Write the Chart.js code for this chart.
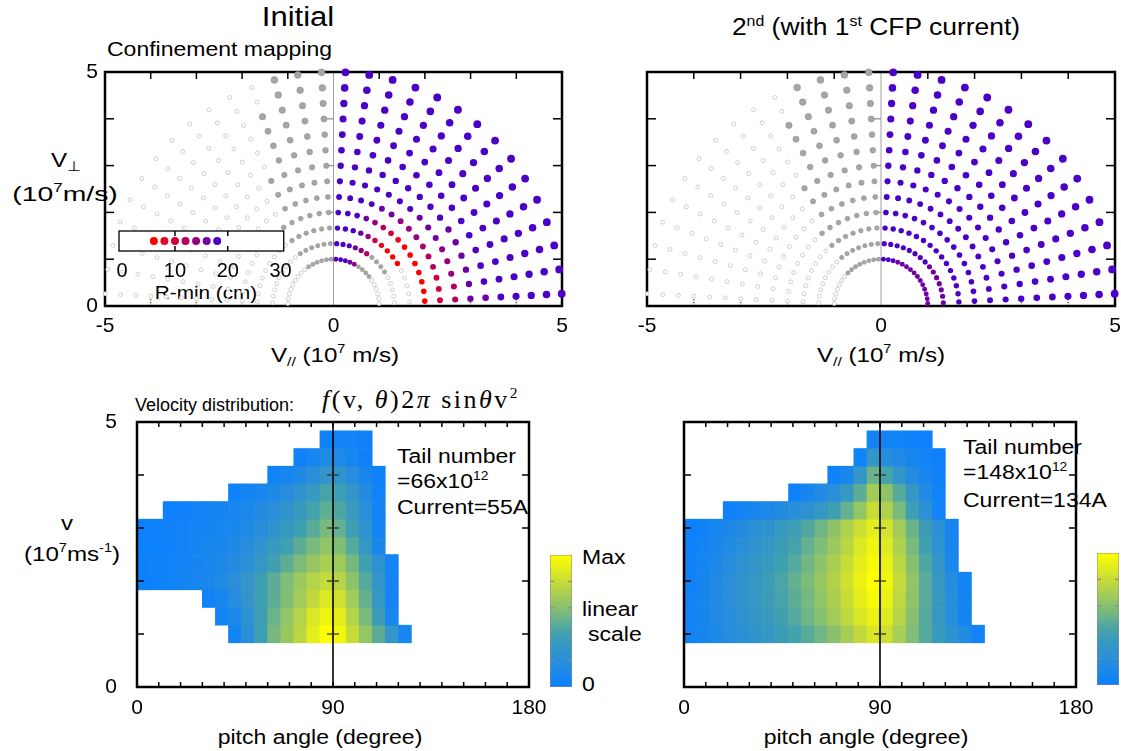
<!DOCTYPE html>
<html lang="en">
<head>
<meta charset="UTF-8">
<title>Confinement mapping and velocity distribution</title>
<script src="https://cdn.jsdelivr.net/npm/chart.js"></script>
<style>
    body { margin: 0; background: #fff; font-family: "Liberation Sans", Arial, sans-serif; }
    #page { position: relative; width: 1121px; height: 751px; overflow: hidden; }
    canvas { position: absolute; }
    .t { position: absolute; white-space: nowrap; line-height: 1; color: #000; --sx: 1.15; }
    .c { transform: translate(-50%, -50%) scaleX(var(--sx)); }
    .l { transform: translateY(-50%) scaleX(var(--sx)); transform-origin: left center; }
    .t sup { font-size: 0.6em; vertical-align: 0.65em; line-height: 0; }
    .t sub { font-size: 0.65em; vertical-align: -0.35em; line-height: 0; }
    .serif { font-family: "Liberation Serif", "DejaVu Serif", serif; letter-spacing: 2.5px; }
</style>
</head>
<body>
<div id="page">
    <div class="t c" style="left:298px;top:17px;font-size:27px">Initial</div>
    <div class="t c" style="left:876px;top:27px;font-size:23px">2<sup>nd</sup> (with 1<sup>st</sup> CFP current)</div>
    <div class="t l" style="left:107px;top:49px;font-size:20px">Confinement mapping</div>

    <div class="t c" style="left:66px;top:159px;font-size:21px">V<sub>⊥</sub></div>
    <div class="t c" style="left:65px;top:193px;font-size:21px;--sx:1.35">(10<sup>7</sup>m/s)</div>
    <div class="t c" style="left:335px;top:354px;font-size:21px">V<sub>//</sub> (10<sup>7</sup> m/s)</div>
    <div class="t c" style="left:881px;top:354px;font-size:21px">V<sub>//</sub> (10<sup>7</sup> m/s)</div>
    <div class="t c" style="left:206px;top:293px;font-size:18px">R-min (cm)</div>

    <div class="t l" style="left:135px;top:405px;font-size:18px;--sx:1">Velocity distribution:</div>
    <div class="t l serif" style="left:322px;top:400px;font-size:26px;--sx:1"><i>f</i>(v, <i>θ</i>)2<i>π</i> sin<i>θ</i>v<sup>2</sup></div>

    <div class="t c" style="left:67px;top:522px;font-size:21px">v</div>
    <div class="t c" style="left:72px;top:553px;font-size:21px">(10<sup>7</sup>ms<sup>-1</sup>)</div>
    <div class="t c" style="left:320px;top:737px;font-size:20px">pitch angle (degree)</div>
    <div class="t c" style="left:866px;top:737px;font-size:20px">pitch angle (degree)</div>

    <div class="t l" style="left:397px;top:456px;font-size:20px">Tail number</div>
    <div class="t l" style="left:397px;top:481px;font-size:20px">=66x10<sup>12</sup></div>
    <div class="t l" style="left:397px;top:507px;font-size:20px">Current=55A</div>
    <div class="t l" style="left:963px;top:447px;font-size:20px">Tail number</div>
    <div class="t l" style="left:963px;top:472px;font-size:20px">=148x10<sup>12</sup></div>
    <div class="t l" style="left:963px;top:500px;font-size:20px">Current=134A</div>

    <div class="t l" style="left:582px;top:557px;font-size:20px">Max</div>
    <div class="t l" style="left:582px;top:609px;font-size:20px">linear</div>
    <div class="t l" style="left:588px;top:634px;font-size:20px">scale</div>
    <div class="t l" style="left:582px;top:684px;font-size:20px">0</div>
</div>

<script>
    // velocity grid: speed (10^7 m/s) and pitch angle (degree)
    const speeds = [1.0, 1.333, 1.667, 2.0, 2.333, 2.667, 3.0, 3.333, 3.667, 4.0, 4.333, 4.667, 5.0];
    const pitchAngles = [3, 9, 15, 21, 27, 33, 39, 45, 51, 57, 63, 69, 75, 81, 87,
                         93, 99, 105, 111, 117, 123, 129, 135, 141, 147, 153, 159, 165, 171, 177];

    // R-min classes (cm) shown in the small legend
    const rMinLegend = [6, 8, 10, 12, 14, 16, 18];

    // one string per speed, one char per pitch angle:
    // '1'..'7' confined (R-min class), 'g' lost near 90 deg, 'o' lost
    const mapInitial = [
        'oooooogggg56777ggggggooooooooo',
        'ooooogggg456777ggggggooooooooo',
        'ooooo1112356777ggggggooooooooo',
        '111111123456777ggggggooooooooo',
        '333444555667777gggggoooooooooo',
        '445556667777777gggggoooooooooo',
        '666666777777777gggggoooooooooo',
        '677777777777777ggggooooooooooo',
        '777777777777777ggggooooooooooo',
        '777777777777777ggggooooooooooo',
        '777777777777777ggggooooooooooo',
        '777777777777777gggoooooooooooo',
        '777777777777777gggoooooooooooo'
    ];
    const mapSecond = [
        '666666666666777ggggggggooooooo',
        '666666677777777gggggggoooooooo',
        '777777777777777gggggggoooooooo',
        '777777777777777gggggggoooooooo',
        '777777777777777ggggggooooooooo',
        '777777777777777ggggggooooooooo',
        '777777777777777ggggggooooooooo',
        '777777777777777gggggoooooooooo',
        '777777777777777gggggoooooooooo',
        '777777777777777gggggoooooooooo',
        '777777777777777gggggoooooooooo',
        '777777777777777ggggooooooooooo',
        '777777777777777ggggooooooooooo'
    ];

    // f(v,theta) in % of max, rows from v=1.0 upward, first pitch-angle bin of each row
    const distInitialStart = [7, 6, 5, 0, 0, 0, 0, 2, 7, 10, 12, 14];
    const distInitial = [
        [6, 20, 38, 55, 65, 76, 90, 100, 96, 80, 64, 48, 28, 8],
        [5, 12, 24, 38, 52, 63, 74, 86, 94, 90, 74, 56, 36, 8],
        [4, 9, 17, 27, 38, 48, 58, 68, 78, 87, 83, 68, 50, 30, 6],
        [2, 3, 4, 6, 8, 10, 14, 20, 28, 38, 48, 58, 66, 74, 79, 75, 62, 46, 28, 6],
        [2, 3, 4, 5, 7, 9, 12, 16, 22, 30, 40, 48, 57, 65, 71, 67, 55, 40, 24, 5],
        [1, 2, 3, 4, 6, 8, 10, 13, 18, 25, 33, 40, 48, 56, 63, 58, 46, 30, 10],
        [1, 2, 3, 4, 5, 6, 8, 10, 14, 19, 25, 32, 39, 47, 56, 50, 38, 24, 6],
        [2, 3, 4, 5, 6, 8, 11, 15, 20, 26, 33, 41, 49, 44, 33, 20, 5],
        [3, 6, 9, 13, 18, 25, 33, 42, 38, 28, 16, 4],
        [4, 8, 13, 20, 28, 26, 18, 9, 3],
        [3, 8, 15, 14, 8, 3],
        [3, 5, 5, 3]
    ];
    const distSecondStart = [0, 0, 0, 0, 0, 0, 0, 3, 8, 11, 13, 14];
    const distSecond = [
        [4, 8, 13, 17, 21, 26, 31, 36, 41, 47, 54, 61, 69, 78, 86, 82, 70, 58, 46, 34, 24, 15, 5],
        [4, 8, 14, 19, 24, 29, 34, 40, 46, 53, 60, 68, 77, 86, 92, 88, 74, 60, 46, 32, 18, 6],
        [4, 8, 14, 20, 25, 30, 36, 42, 48, 55, 63, 71, 80, 90, 97, 92, 77, 62, 47, 32, 18, 6],
        [3, 8, 14, 20, 26, 31, 37, 43, 50, 57, 65, 73, 83, 93, 100, 95, 79, 63, 47, 31, 17, 5],
        [3, 7, 12, 18, 23, 28, 34, 40, 46, 54, 62, 70, 80, 90, 97, 92, 76, 60, 44, 28, 10],
        [2, 6, 10, 15, 20, 25, 30, 36, 42, 50, 58, 66, 76, 87, 94, 88, 72, 56, 40, 24, 8],
        [2, 4, 8, 12, 16, 21, 26, 32, 38, 45, 53, 62, 72, 82, 90, 84, 68, 52, 36, 22, 7],
        [3, 6, 9, 12, 15, 19, 23, 30, 38, 50, 64, 80, 72, 56, 38, 22, 5],
        [3, 8, 14, 20, 32, 48, 68, 62, 46, 30, 14, 4],
        [3, 10, 28, 52, 42, 28, 16, 8, 3],
        [4, 28, 18, 14, 9, 5, 2],
        [6, 5, 4, 3, 2]
    ];

    // colours
    const rMinColors = ['#ff0000', '#ee0022', '#d4003e', '#b40060', '#940080', '#7000a4', '#4a00c6'];
    const cmapStops = [
        [0, [10, 128, 255]], [0.2, [42, 142, 216]], [0.4, [64, 160, 176]],
        [0.6, [136, 192, 112]], [0.8, [200, 220, 56]], [1, [255, 255, 0]]
    ];

    function cmap(t) {
        t = Math.max(0, Math.min(1, t));
        for (let i = 1; i < cmapStops.length; i++) {
            const [t1, c1] = cmapStops[i];
            if (t <= t1) {
                const [t0, c0] = cmapStops[i - 1];
                const f = (t - t0) / (t1 - t0);
                const c = c0.map((v, j) => Math.round(v + (c1[j] - v) * f));
                return 'rgb(' + c.join(',') + ')';
            }
        }
        return 'rgb(255,255,0)';
    }

    Chart.defaults.font.family = '"Liberation Sans", Arial, sans-serif';
    Chart.defaults.font.size = 21;
    Chart.defaults.color = '#000';
    Chart.defaults.animation = false;
    Chart.defaults.events = [];
    Chart.defaults.plugins.legend.display = false;
    Chart.defaults.plugins.tooltip.enabled = false;

    const page = document.getElementById('page');

    function addCanvas(box, m) {
        const c = document.createElement('canvas');
        const w = box.r - box.l + m.l + m.r;
        const h = box.b - box.t + m.t + m.b;
        c.width = w;
        c.height = h;
        c.style.left = (box.l - m.l) + 'px';
        c.style.top = (box.t - m.t) + 'px';
        c.style.width = w + 'px';
        c.style.height = h + 'px';
        page.appendChild(c);
        return c;
    }

    function axisX(min, max, labels, pad, m) {
        return {
            type: 'linear', min: min, max: max, offset: false,
            grid: { display: false, drawTicks: false, offset: false },
            border: { display: false },
            ticks: { padding: pad, maxRotation: 0, autoSkip: false, callback: v => String(v) },
            afterBuildTicks: s => { s.ticks = labels.map(v => ({ value: v })); },
            afterFit: s => { s.height = m.b; }
        };
    }

    function axisY(min, max, labels, pad, m, show) {
        return {
            type: 'linear', min: min, max: max,
            grid: { display: false, drawTicks: false },
            border: { display: false },
            ticks: { padding: pad, display: show, callback: v => String(v) },
            afterBuildTicks: s => { s.ticks = labels.map(v => ({ value: v })); },
            afterFit: s => { s.width = m.l; }
        };
    }

    // frame, inward ticks and the centre line of a panel
    function drawFrame(chart, o) {
        const { ctx, chartArea: a, scales } = chart;
        const x = scales.x, y = scales.y;
        const seg = (x0, y0, x1, y1) => { ctx.beginPath(); ctx.moveTo(x0, y0); ctx.lineTo(x1, y1); ctx.stroke(); };
        ctx.save();
        if (o.fill) {
            ctx.fillStyle = o.fill;
            ctx.fillRect(a.left, a.top, a.right - a.left, a.bottom - a.top);
        }
        if (o.center) {
            const cx = x.getPixelForValue(o.center.value);
            ctx.strokeStyle = o.center.color;
            ctx.lineWidth = o.center.width;
            seg(cx, a.top, cx, a.bottom);
            ctx.strokeStyle = o.center.tickColor;
            ctx.lineWidth = 1.3;
            (o.yTicks || []).forEach(v => {
                const py = y.getPixelForValue(v);
                seg(cx - o.center.tickLeft, py, cx + o.center.tickRight, py);
            });
        }
        ctx.strokeStyle = o.color || '#000';
        ctx.lineWidth = o.tickWidth || 1.5;
        (o.xTicks || []).forEach(v => {
            const px = x.getPixelForValue(v);
            seg(px, a.top, px, a.top + o.lenTop);
            if (o.bottomDotted) {
                ctx.save();
                ctx.strokeStyle = '#555';
                ctx.setLineDash([1.2, 1.6]);
                seg(px, a.bottom, px, a.bottom - o.lenTop);
                ctx.restore();
            } else {
                seg(px, a.bottom, px, a.bottom - o.lenTop);
            }
        });
        (o.yTicks || []).forEach(v => {
            const py = y.getPixelForValue(v);
            seg(a.left, py, a.left + o.lenSide, py);
            seg(a.right, py, a.right - o.lenSide, py);
        });
        ctx.lineWidth = o.lineWidth;
        ctx.strokeStyle = o.color || '#000';
        ctx.strokeRect(a.left, a.top, a.right - a.left, a.bottom - a.top);
        ctx.restore();
    }

    const panelFrame = {
        id: 'panelFrame',
        beforeDatasetsDraw(chart, args, o) { if (!o.onTop) drawFrame(chart, o); },
        afterDatasetsDraw(chart, args, o) { if (o.onTop) drawFrame(chart, o); }
    };

    function confinementDatasets(codes) {
        const open = [], grey = [], kept = [];
        speeds.forEach((v, i) => {
            pitchAngles.forEach((deg, k) => {
                const c = codes[i][k];
                const th = deg * Math.PI / 180;
                const p = { x: v * Math.cos(th), y: v * Math.sin(th), v: v, cls: c };
                if (c === 'o') open.push(p);
                else if (c === 'g') grey.push(p);
                else kept.push(p);
            });
        });
        return [
            {
                data: open, clip: false, pointRadius: 2, pointBorderWidth: 0.8,
                pointBackgroundColor: '#ffffff', pointBorderColor: '#c4c4c4'
            },
            {
                data: grey, clip: false, pointBorderWidth: 0.6,
                pointRadius: ctx => ctx.raw ? 1.7 + 0.34 * ctx.raw.v : 2,
                pointBackgroundColor: '#a6a6a6', pointBorderColor: '#8e8e8e'
            },
            {
                data: kept, clip: false, pointBorderWidth: 0,
                pointRadius: ctx => ctx.raw ? 2.1 + 0.36 * ctx.raw.v : 2,
                pointBackgroundColor: ctx => ctx.raw ? rMinColors[Number(ctx.raw.cls) - 1] : '#000'
            }
        ];
    }

    function confinementChart(box, codes, showY) {
        const m = { l: 50, t: 40, r: 25, b: 45 };
        return new Chart(addCanvas(box, m), {
            type: 'scatter',
            data: { datasets: confinementDatasets(codes) },
            options: {
                responsive: false,
                devicePixelRatio: 1,
                layout: { padding: { left: 0, top: m.t, right: m.r, bottom: 0 } },
                scales: {
                    x: axisX(-5, 5, [-5, 0, 5], 8, m),
                    y: axisY(0, 5, [0, 5], 7, m, showY)
                },
                plugins: {
                    panelFrame: {
                        onTop: false, lineWidth: 2.5, lenTop: 7, lenSide: 9, bottomDotted: true,
                        xTicks: [-4, -3, -2, -1, 1, 2, 3, 4], yTicks: [1, 2, 3, 4],
                        center: { value: 0, color: '#a0a0a0', width: 1, tickColor: '#909090', tickLeft: 8, tickRight: 0 }
                    }
                }
            },
            plugins: [panelFrame]
        });
    }

    function cellData(starts, rows) {
        const dv = speeds[1] - speeds[0];
        const out = [];
        rows.forEach((vals, i) => {
            const v = speeds[i];
            vals.forEach((val, j) => {
                out.push({ x: pitchAngles[starts[i] + j], y: [v - dv / 2, v + dv / 2], f: val });
            });
        });
        return out;
    }

    function distributionChart(box, starts, rows, showY) {
        const m = { l: 60, t: 40, r: 30, b: 45 };
        return new Chart(addCanvas(box, m), {
            type: 'bar',
            data: {
                datasets: [{
                    data: cellData(starts, rows),
                    backgroundColor: ctx => ctx.raw ? cmap(ctx.raw.f / 100) : '#000',
                    borderWidth: 0,
                    barPercentage: 1,
                    categoryPercentage: 1
                }]
            },
            options: {
                responsive: false,
                devicePixelRatio: 1,
                layout: { padding: { left: 0, top: m.t, right: m.r, bottom: 0 } },
                scales: {
                    x: axisX(0, 180, [0, 90, 180], 9, m),
                    y: axisY(0, 5, [0, 5], 20, m, showY)
                },
                plugins: {
                    panelFrame: {
                        onTop: true, lineWidth: 2.5, lenTop: 5, lenSide: 7,
                        xTicks: [10, 20, 30, 40, 50, 60, 70, 80, 90, 100, 110, 120, 130, 140, 150, 160, 170],
                        yTicks: [1, 2, 3, 4],
                        center: { value: 90, color: '#000', width: 1.6, tickColor: '#333', tickLeft: 6, tickRight: 6 }
                    }
                }
            },
            plugins: [panelFrame]
        });
    }

    function colorBar(box) {
        const m = { l: 0, t: 0, r: 0, b: 0 };
        return new Chart(addCanvas(box, m), {
            type: 'bar',
            data: {
                labels: ['f'],
                datasets: [{
                    data: [[0, 1]],
                    borderWidth: 0,
                    barPercentage: 1,
                    categoryPercentage: 1,
                    backgroundColor: ctx => {
                        const a = ctx.chart.chartArea;
                        if (!a) return cmap(0.5);
                        const g = ctx.chart.ctx.createLinearGradient(0, a.bottom, 0, a.top);
                        cmapStops.forEach(([t]) => g.addColorStop(t, cmap(t)));
                        return g;
                    }
                }]
            },
            options: {
                responsive: false,
                devicePixelRatio: 1,
                scales: {
                    x: { display: false },
                    y: { display: false, min: 0, max: 1 }
                },
                plugins: {
                    panelFrame: {
                        onTop: true, lineWidth: 1, color: '#8a8a8a', tickWidth: 1.2, lenTop: 0, lenSide: 4,
                        yTicks: [0.2, 0.4, 0.6, 0.8]
                    }
                }
            },
            plugins: [panelFrame]
        });
    }

    confinementChart({ l: 105, t: 72, r: 562, b: 306 }, mapInitial, true);
    confinementChart({ l: 647, t: 72, r: 1115, b: 306 }, mapSecond, false);
    distributionChart({ l: 137, t: 422, r: 529, b: 687 }, distInitialStart, distInitial, true);
    distributionChart({ l: 684, t: 422, r: 1076, b: 687 }, distSecondStart, distSecond, false);
    colorBar({ l: 550, t: 555, r: 572, b: 687 });
    colorBar({ l: 1097, t: 553, r: 1119, b: 685 });

    // R-min legend inside the initial confinement map
    new Chart(addCanvas({ l: 119, t: 231, r: 284, b: 251 }, { l: 24, t: 20, r: 16, b: 54 }), {
        type: 'scatter',
        data: {
            datasets: [{
                data: rMinLegend.map(r => ({ x: r, y: 0.5 })),
                pointRadius: 4,
                pointBorderWidth: 0,
                pointBackgroundColor: rMinColors
            }]
        },
        options: {
            responsive: false,
            devicePixelRatio: 1,
            layout: { padding: { left: 24, top: 20, right: 16, bottom: 0 } },
            scales: {
                x: Object.assign(axisX(-0.6, 30.6, [0, 10, 20, 30], 8, { b: 54 }), {
                    ticks: { padding: 8, maxRotation: 0, autoSkip: false, font: { size: 20 }, callback: v => String(v) }
                }),
                y: { display: false, min: 0, max: 1 }
            },
            plugins: {
                panelFrame: {
                    onTop: false, fill: '#ffffff', lineWidth: 1.3, lenTop: 5, lenSide: 0,
                    xTicks: [10, 20]
                }
            }
        },
        plugins: [panelFrame]
    });
</script>
</body>
</html>
